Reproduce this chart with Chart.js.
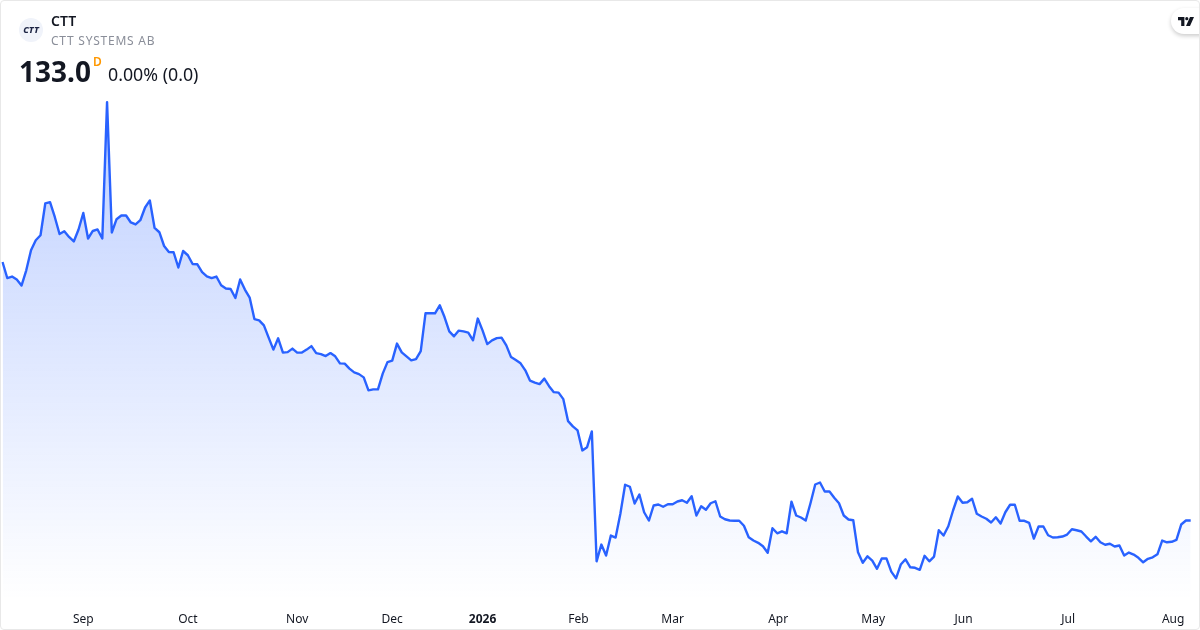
<!DOCTYPE html>
<html>
<head>
<meta charset="utf-8">
<script src="https://cdn.jsdelivr.net/npm/chart.js@4"></script>
<style>
html,body{margin:0;padding:0;width:1200px;height:630px;background:#fff;overflow:hidden;font-family:"Noto Sans",sans-serif;color:#131722}
#wrap{position:absolute;left:0;top:0;width:1200px;height:630px}
#frame{position:absolute;left:0;top:0;width:1200px;height:630px;box-sizing:border-box;border:1px solid #e8e8e8;border-radius:4px;pointer-events:none}
canvas{position:absolute;left:0;top:0}
.t{position:absolute;white-space:nowrap;line-height:1}
#logo{position:absolute;left:19px;top:18px;width:24px;height:24px;border-radius:50%;background:#f0f3fa;text-align:center;font:italic 800 9px/24px "Noto Sans",sans-serif;color:#1c2444;letter-spacing:.1px}
#tv{position:absolute;left:1171px;top:8px;width:40px;height:26px;border-radius:13px 0 0 13px;background:#fff;box-shadow:0 2px 4px rgba(0,0,0,.2)}
</style>
</head>
<body>
<div id="wrap">
<canvas id="c" width="1200" height="630"></canvas>
<div id="logo">CTT</div>
<div class="t" style="left:51px;top:14px;font-size:14px;font-weight:600">CTT</div>
<div class="t" style="left:51px;top:35px;font-size:12px;color:#8a8e99;letter-spacing:.76px">CTT SYSTEMS AB</div>
<div class="t" style="left:19px;top:57px;font-size:28px;font-weight:700">133.0</div>
<div class="t" style="left:93px;top:56px;font-size:12px;font-weight:600;color:#ff9800">D</div>
<div class="t" style="left:108px;top:66px;font-size:17.8px">0.00% (0.0)</div>
<div id="tv"><svg style="position:absolute;left:7px;top:9px" width="16" height="9" viewBox="0 0 20 11"><path fill="#131722" d="M0 0h8v11H4V4H0zM11 0a2 2 0 1 1 0 4 2 2 0 0 1 0-4zM15 0h5l-5 11h-5z"/></svg></div>
<div id="frame"></div>
</div>
<script>
const closes = [
236.3,229.9,230.5,229.3,226.9,233,241,245,247,259.7,260.2,254.3,247.5,248.6,246.3,244.5,249.3,255.9,245.7,248.7,
249.3,245.7,300.2,248.1,253.4,254.9,254.9,252.1,251.3,253,258.1,260.9,249.9,248.2,242.7,240.3,240.2,234.1,240.7,239,
235.5,235.4,232.3,230.6,229.9,230.5,227,225.7,225.5,221.9,229.3,225.3,222.1,213.5,213,211,206.1,201.3,205.8,200.1,
200.3,201.7,200.1,200.1,201.3,202.7,199.9,199.5,198.7,199.9,198.6,195.8,195.7,193.7,192.2,191.5,190.2,185,185.4,185.4,
191.7,196.3,196.9,203.7,200.2,198.6,197,197.5,200.7,215.8,215.8,215.8,219,214.3,208.6,206.6,208.9,208.6,208.1,205,
213.7,209,203.5,205,205.9,206.1,203,198.3,197.1,195.8,193,188.9,188.1,187.5,189.7,186.7,184.3,184.1,181.5,172.7,
170.6,169,161,162.3,168.6,116.7,123.4,119,127,126.2,135.7,147.3,146.5,139.8,143.4,136.3,133,139,139.4,138.5,
139.5,139.5,140.6,141.1,140.1,142.7,135,138.7,137.3,139.9,140.7,134.6,133.5,133,132.9,132.9,130.9,126.3,125,124.1,
122.7,120.1,129.9,127.9,128.7,127.9,140.5,135,134.2,133,139.9,147.4,148.2,144.6,144.6,142.1,139.9,135,133.4,133.1,
120.3,116.1,118.7,117,113.7,117.8,117.8,112.6,109.9,115.4,117.5,114.3,114.1,113.3,118.9,116.7,118.6,129.1,127,130.7,
137,142.6,140.1,140.3,141.7,135.7,134.6,133.7,132.2,134.3,131.8,136.3,139.3,139.3,132.9,132.9,132.1,125.8,130.6,130.6,
127.1,126.2,126.3,126.6,127.4,129.5,129.1,128.6,126.6,124.7,126.5,124.3,123.3,123.7,122.6,123,119,120.2,119.4,118.1,
116.3,117.7,118.3,119.5,125,124.3,124.5,125.3,131.4,133,133
];
const tickLabels = ["Sep","Oct","Nov","Dec","2026","Feb","Mar","Apr","May","Jun","Jul","Aug"];
const tickIndexes = [17,39,62,82,101,121.2,141,163.2,183.2,202.2,224.2,246.3];
const valueMin = 101, valueMax = 341;
const categories = closes.map((_, i) => {
  const k = tickIndexes.findIndex(v => Math.floor(v) === i);
  return k >= 0 ? tickLabels[k] : "";
});
const FONT = '"Noto Sans", sans-serif';
new Chart(document.getElementById("c"), {
  type: "line",
  data: {
    labels: categories,
    datasets: [{
      data: closes,
      borderColor: "#2962FF",
      borderWidth: 2.4,
      pointRadius: 0,
      tension: 0,
      borderJoinStyle: "round",
      fill: "start",
      backgroundColor(ctx) {
        const { chart } = ctx;
        const { chartArea, scales } = chart;
        if (!chartArea) return "rgba(41,98,255,0.15)";
        const top = scales.y.getPixelForValue(Math.max(...closes));
        const g = chart.ctx.createLinearGradient(0, top, 0, chartArea.bottom);
        g.addColorStop(0, "rgba(41,98,255,0.30)");
        g.addColorStop(1, "rgba(41,98,255,0)");
        return g;
      }
    }]
  },
  options: {
    responsive: false,
    animation: false,
    devicePixelRatio: 1,
    layout: { padding: { left: 2.5, right: 9.3, top: 0, bottom: -9 } },
    plugins: { legend: { display: false }, tooltip: { enabled: false } },
    elements: { line: { capBezierPoints: false } },
    scales: {
      y: { display: false, min: valueMin, max: valueMax },
      x: {
        offset: false,
        grid: { display: false, drawTicks: false },
        border: { display: false },
        afterBuildTicks(axis) {
          axis.ticks = tickIndexes.map((v, i) => ({ value: v, label: tickLabels[i] }));
        },
        ticks: {
          autoSkip: false,
          maxRotation: 0,
          padding: 12,
          color: "#131722",
          font: c => ({ family: FONT, size: 12, weight: c.tick && c.tick.label === "2026" ? "700" : "400" }),
          callback(v, i) { return tickLabels[i]; }
        }
      }
    }
  }
});
</script>
</body>
</html>
